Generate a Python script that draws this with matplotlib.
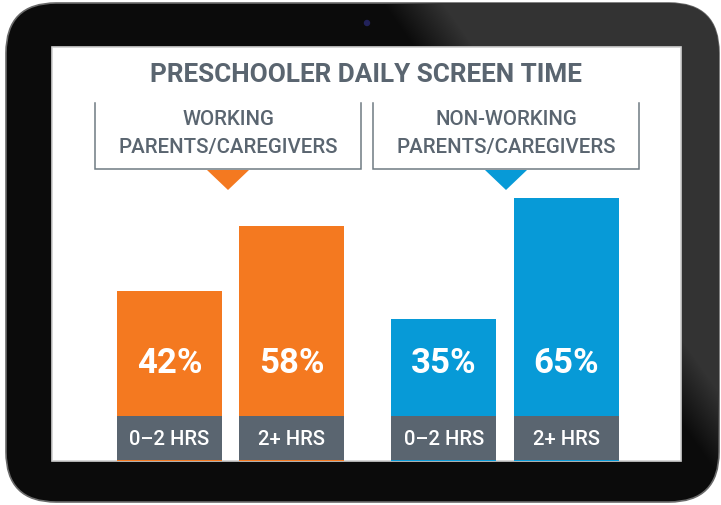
import matplotlib
matplotlib.use("Agg")
import matplotlib.pyplot as plt
from matplotlib.patches import FancyBboxPatch, Rectangle, Polygon, Circle
import numpy as np

plt.rcParams['font.family'] = ['Roboto', 'DejaVu Sans']

# daten
title = "PRESCHOOLER DAILY SCREEN TIME"
groups = ["WORKING", "NON-WORKING"]
group_sub = "PARENTS/CAREGIVERS"
hours = ["0–2 HRS", "2+ HRS", "0–2 HRS", "2+ HRS"]
shares = [42, 58, 35, 65]
bar_group = [0, 0, 1, 1]

orange = "#f47920"
blue = "#079ad7"
slate = "#5a6570"
group_colors = [orange, blue]

W, H = 721, 505
fig = plt.figure(figsize=(W / 100, H / 100), dpi=100)

# hintergrund in pixelkoordinaten (tablet)
bg = fig.add_axes([0, 0, 1, 1])
bg.set_xlim(0, W)
bg.set_ylim(H, 0)
bg.axis('off')

R = 50
body = FancyBboxPatch((6 + R, 3 + R), 713 - 2 * R, 499 - 2 * R,
                      boxstyle="round,pad=%d,rounding_size=%d" % (R, R),
                      facecolor="#0b0b0b", edgecolor="#6a6a6a", linewidth=1.2, zorder=1)
bg.add_patch(body)

# glanz oben rechts
yy, xx = np.mgrid[0:H, 0:W]
d = (xx - 380 - 0.71 * yy)
shade = np.clip(d / 60.0, 0, 1)
img = np.zeros((H, W, 4))
img[..., 0] = img[..., 1] = img[..., 2] = 0.2
img[..., 3] = shade
im = bg.imshow(img, extent=(0, W, H, 0), zorder=2, interpolation='bilinear')
im.set_clip_path(body)

bg.add_patch(Circle((367, 23), 2.5, color="#22225a", zorder=3))

screen = Rectangle((52, 47), 629, 414, facecolor="white", edgecolor="#d0d0d0",
                   linewidth=1.2, zorder=3)
bg.add_patch(screen)

bg.text(366, 82, title, ha='center', va='baseline', fontsize=18.8,
        fontweight='bold', color=slate, zorder=4)

boxes = [(95, 361), (373, 639)]
for g, (x0, x1) in enumerate(boxes):
    cx = (x0 + x1) / 2
    bg.plot([x0, x0, x1, x1], [103, 169, 169, 103], color="#6f7a83", lw=1.1,
            solid_joinstyle='miter', zorder=4)
    bg.text(cx, 125, groups[g], ha='center', va='baseline', fontsize=14.8,
            fontweight='medium', color=slate, zorder=4)
    bg.text(cx, 153, group_sub, ha='center', va='baseline', fontsize=14.8,
            fontweight='medium', color=slate, zorder=4)
    bg.add_patch(Polygon([(cx - 21, 170), (cx + 21, 170), (cx, 190)],
                         closed=True, facecolor=group_colors[g], edgecolor='none', zorder=4))

# balken
px_per_pct = 4.05
ax = fig.add_axes([52 / W, (H - 461) / H, 629 / W, 414 / H])
ax.set_xlim(-0.959, 4.176)
ax.set_ylim(0, 414 / px_per_pct)
ax.axis('off')
ax.patch.set_visible(False)

pos = [0, 1, 2.24, 3.24]
bw = 0.857
colors = [group_colors[g] for g in bar_group]
ax.bar(pos, shares, width=bw, color=colors, zorder=2)
band = 44 / px_per_pct
ax.bar(pos, [band] * len(pos), bottom=0.35, width=bw, color=slate, zorder=3)

for p, v, h in zip(pos, shares, hours):
    ax.text(p, 88 / px_per_pct, "%d%%" % v, ha='center', va='baseline',
            fontsize=25, fontweight='bold', color='white', zorder=4)
    ax.text(p, 16 / px_per_pct, h, ha='center', va='baseline',
            fontsize=14.6, fontweight='medium', color='white', zorder=4)

fig.savefig("out.png", dpi=100)
